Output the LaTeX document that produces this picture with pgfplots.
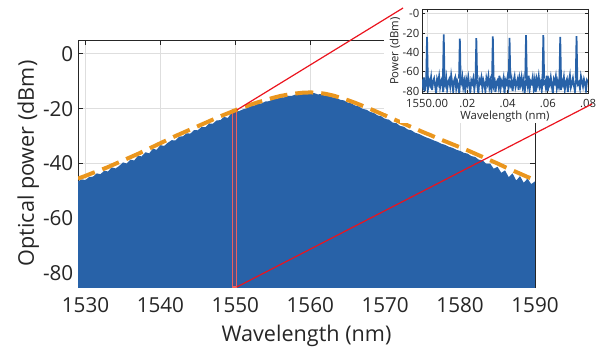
\documentclass[border=0pt]{standalone}
\usepackage{pgfplots}
\pgfplotsset{compat=1.18}
\usepackage{fontspec}
\setmainfont{Open Sans}
\definecolor{mblue}{RGB}{40,98,168}
\definecolor{morange}{RGB}{234,150,30}
\definecolor{tgray}{RGB}{38,38,38}
\definecolor{ggray}{RGB}{222,222,222}
\definecolor{rline}{RGB}{235,20,30}
\definecolor{rbox}{RGB}{236,96,96}
\begin{document}
\begin{tikzpicture}
\useasboundingbox (0,0) rectangle (456.75pt,267.75pt);
\begin{axis}[
  at={(58.5pt,52.5pt)}, anchor=south west,
  width=342.75pt, height=185.25pt, scale only axis,
  xmin=1529, xmax=1590, ymin=-85, ymax=5,
  xtick={1530,1540,1550,1560,1570,1580,1590},
  xticklabels={1530,1540,1550,1560,1570,1580,1590},
  ytick={-80,-60,-40,-20,0}, yticklabels={-80,-60,-40,-20,0},
  tick align=inside, major tick length=3.5pt,
  grid=major, grid style={ggray, line width=0.6pt},
  axis line style={tgray, line width=0.7pt}, tick style={tgray, line width=0.6pt},
  tick label style={font=\fontsize{15.5}{18}\selectfont, text=tgray},
  label style={font=\fontsize{16.2}{19}\selectfont, text=tgray},
  xticklabel style={yshift=-4pt},
  xlabel={Wavelength (nm)}, ylabel={Optical power (dBm)},
  xlabel style={at={(axis description cs:0.5,-0.198)}, anchor=center},
  ylabel style={at={(axis description cs:-0.109,0.5)}, anchor=center},
]
\addplot[draw=none, fill=mblue] coordinates {
(1529,-90) (1529.0,-46.5) (1529.5,-45.8) (1530.0,-46.0) (1530.5,-44.9) (1531.0,-44.8) (1531.5,-43.6)
(1532.0,-43.9) (1532.5,-42.6) (1533.0,-42.9) (1533.5,-41.4) (1534.0,-41.8) (1534.5,-40.9)
(1535.0,-39.6) (1535.5,-40.0) (1536.0,-38.6) (1536.5,-38.9) (1537.0,-37.2) (1537.5,-37.4)
(1538.0,-35.9) (1538.5,-36.3) (1539.0,-34.6) (1539.5,-35.0) (1540.0,-33.3) (1540.5,-33.6)
(1541.0,-32.4) (1541.5,-31.5) (1542.0,-31.6) (1542.5,-30.2) (1543.0,-30.1) (1543.5,-29.0)
(1544.0,-29.1) (1544.5,-27.8) (1545.0,-27.9) (1545.5,-26.6) (1546.0,-26.8) (1546.5,-25.4)
(1547.0,-25.5) (1547.5,-24.3) (1548.0,-24.2) (1548.5,-23.0) (1549.0,-23.4) (1549.5,-21.5)
(1550.0,-20.8) (1550.5,-20.9) (1551.0,-20.3) (1551.5,-19.9) (1552.0,-19.2) (1552.5,-18.9)
(1553.0,-18.3) (1553.5,-18.1) (1554.0,-17.4) (1554.5,-17.3) (1555.0,-16.6) (1555.5,-16.5)
(1556.0,-15.8) (1556.5,-15.9) (1557.0,-15.3) (1557.5,-15.4) (1558.0,-14.9) (1558.5,-15.0)
(1559.0,-14.4) (1559.5,-14.0) (1560.0,-14.5) (1560.5,-14.3) (1561.0,-14.8) (1561.5,-14.7)
(1562.0,-15.3) (1562.5,-15.4) (1563.0,-15.9) (1563.5,-16.1) (1564.0,-16.8) (1564.5,-17.0)
(1565.0,-17.8) (1565.5,-18.1) (1566.0,-18.9) (1566.5,-19.2) (1567.0,-20.1) (1567.5,-20.4)
(1568.0,-21.2) (1568.5,-21.6) (1569.0,-22.5) (1569.5,-22.8) (1570.0,-23.8) (1570.5,-24.0)
(1571.0,-25.1) (1571.5,-25.3) (1572.0,-26.3) (1572.5,-26.6) (1573.0,-27.6) (1573.5,-27.9)
(1574.0,-28.8) (1574.5,-29.2) (1575.0,-29.9) (1575.5,-30.5) (1576.0,-31.0) (1576.5,-31.6)
(1577.0,-32.1) (1577.5,-32.8) (1578.0,-33.2) (1578.5,-33.9) (1579.0,-34.3) (1579.5,-35.0)
(1580.0,-35.4) (1580.5,-36.1) (1581.0,-36.4) (1581.5,-37.3) (1582.0,-37.6) (1582.5,-38.6)
(1583.0,-38.8) (1583.5,-40.1) (1584.0,-40.0) (1584.5,-41.9) (1585.0,-41.2) (1585.5,-43.4)
(1586.0,-42.5) (1586.5,-45.0) (1587.0,-43.6) (1587.5,-46.2) (1588.0,-44.6) (1588.5,-47.0)
(1589.0,-45.5) (1589.5,-47.5) (1590.0,-46.5) (1590,-90)
};
\draw[rbox, line width=1pt, fill=red, fill opacity=0.15] (axis cs:1549.6,-85) rectangle (axis cs:1550.2,-20.5);
\addplot[morange, line width=3pt, dash pattern=on 13.5pt off 6pt] coordinates {
(1529,-45.5) (1530,-44.5) (1531,-43.4) (1532,-42.4) (1533,-41.3) (1534,-40.1) (1535,-38.9)
(1536,-37.7) (1537,-36.5) (1538,-35.2) (1539,-33.9) (1540,-32.6) (1541,-31.3) (1542,-30.0)
(1543,-28.8) (1544,-27.6) (1545,-26.4) (1546,-25.2) (1547,-24.0) (1548,-22.8) (1549,-21.7)
(1550,-20.6) (1551,-19.6) (1552,-18.6) (1553,-17.7) (1554,-16.9) (1555,-16.1) (1556,-15.4)
(1557,-14.9) (1558,-14.5) (1559,-14.2) (1560,-14.1) (1561,-14.2) (1562,-14.6) (1563,-15.2)
(1564,-16.0) (1565,-16.9) (1566,-17.9) (1567,-19.0) (1568,-20.1) (1569,-21.3) (1570,-22.5)
(1571,-23.7) (1572,-24.9) (1573,-26.1) (1574,-27.3) (1575,-28.5) (1576,-29.6) (1577,-30.8)
(1578,-31.9) (1579,-33.0) (1580,-34.1) (1581,-35.2) (1582,-36.4) (1583,-37.6) (1584,-38.8)
(1585,-40.0) (1586,-41.3) (1587,-42.5) (1588,-43.7) (1589,-44.9) (1590,-46.0)
};
\coordinate (rt) at (axis cs:1550.2,-20.5);
\coordinate (rb) at (axis cs:1550.2,-85);
\end{axis}
\fill[white] (288pt,183pt) rectangle (456.75pt,267.75pt);
\fill[white] (300pt,175.5pt) rectangle (456.75pt,183.5pt);
\begin{axis}[
  at={(316.5pt,198pt)}, anchor=south west,
  width=124.5pt, height=63pt, scale only axis,
  xmin=-2.5, xmax=80, ymin=-82, ymax=5,
  xtick={0,20,40,60,80}, xticklabels={1550.00,.02,.04,.06,.08},
  ytick={-80,-60,-40,-20,0}, yticklabels={-80,-60,-40,-20,-0},
  axis background/.style={fill=white},
  tick align=inside, major tick length=2pt,
  grid=major, grid style={ggray, line width=0.5pt},
  axis line style={tgray, line width=0.6pt}, tick style={tgray, line width=0.5pt},
  tick label style={font=\fontsize{8.5}{10}\selectfont, text=tgray},
  label style={font=\fontsize{8.5}{10}\selectfont, text=tgray},
  xticklabel style={yshift=-1.5pt},
  yticklabel style={xshift=1.5pt},
  xlabel={Wavelength (nm)}, ylabel={Power (dBm)},
  xlabel style={at={(axis description cs:0.5,-0.286)}, anchor=center},
  ylabel style={at={(axis description cs:-0.163,0.5)}, anchor=center},
  unbounded coords=jump,
]
\addplot[mblue, line width=1.4pt] table {
x y
-2.5 -68
-2.0 -75
-1.5 -66
-1.0 -80
-0.5 -71
0.0 -64
0.5 -77
1.0 -69
1.5 -73
2.0 -66
2.5 -79
3.0 -70
3.5 -67
4.0 -74
4.5 -82
5.0 -68
5.5 -72
6.0 -65
6.5 -76
7.0 -70
7.5 -67
8.0 -81
8.5 -69
9.0 -73
9.5 -66
10.0 -78
10.5 -71
11.0 -68
11.5 -75
12.0 -64
12.5 -72
13.0 -80
13.5 -69
14.0 -66
14.5 -77
15.0 -70
15.5 -74
16.0 -82
16.5 -67
17.0 -71
17.5 -65
18.0 -76
18.5 -70
19.0 -79
19.5 -68
20.0 -73
20.5 -66
21.0 -75
21.5 -81
22.0 -69
22.5 -72
23.0 -67
23.5 -78
24.0 -70
24.5 -64
25.0 -74
25.5 -82
26.0 -68
26.5 -71
27.0 -66
27.5 -77
28.0 -69
28.5 -73
29.0 -80
29.5 -67
30.0 -72
30.5 -65
31.0 -76
31.5 -70
32.0 -79
32.5 -68
33.0 -74
33.5 -66
34.0 -81
34.5 -71
35.0 -69
35.5 -75
36.0 -64
36.5 -78
37.0 -70
37.5 -73
38.0 -67
38.5 -82
39.0 -69
39.5 -72
40.0 -66
40.5 -77
41.0 -71
41.5 -74
42.0 -68
42.5 -80
43.0 -70
43.5 -65
44.0 -76
44.5 -72
45.0 -68
45.5 -79
46.0 -67
46.5 -73
47.0 -66
47.5 -75
48.0 -69
48.5 -82
49.0 -71
49.5 -67
50.0 -74
50.5 -64
51.0 -78
51.5 -70
52.0 -72
52.5 -66
53.0 -77
53.5 -69
54.0 -81
54.5 -68
55.0 -73
55.5 -65
56.0 -75
56.5 -71
57.0 -79
57.5 -67
58.0 -72
58.5 -70
59.0 -76
59.5 -64
60.0 -80
60.5 -69
61.0 -73
61.5 -66
62.0 -74
62.5 -82
63.0 -68
63.5 -71
64.0 -65
64.5 -77
65.0 -70
65.5 -75
66.0 -67
66.5 -79
67.0 -69
67.5 -73
68.0 -66
68.5 -78
69.0 -71
69.5 -68
70.0 -81
70.5 -70
71.0 -64
71.5 -76
72.0 -72
72.5 -67
73.0 -74
73.5 -80
74.0 -69
74.5 -66
75.0 -73
75.5 -71
76.0 -77
76.5 -65
77.0 -70
77.5 -75
78.0 -68
78.5 -72
79.0 -79
79.5 -69
80.0 -71
};
\addplot[mblue, line width=1.3pt] coordinates {
(-0.4,-67) (0.0,-23.9) (0.4,-67) (0.2,nan)
(7.9,-67) (8.3,-21.4) (8.7,-67) (8.5,nan)
(15.9,-67) (16.3,-25.6) (16.7,-67) (16.5,nan)
(24.1,-67) (24.5,-25.3) (24.9,-67) (24.7,nan)
(32.3,-67) (32.7,-23.5) (33.1,-67) (32.9,nan)
(40.6,-67) (41.0,-24.9) (41.4,-67) (41.2,nan)
(48.8,-67) (49.2,-22.1) (49.6,-67) (49.4,nan)
(57.4,-67) (57.8,-22.1) (58.2,-67) (58.0,nan)
(65.8,-67) (66.2,-23.9) (66.6,-67) (66.4,nan)
(73.9,-67) (74.3,-23.2) (74.7,-67)
};
\coordinate (iu) at (rel axis cs:-0.114,1.012);
\coordinate (il) at (rel axis cs:1.024,-0.131);
\end{axis}
\draw[rline, line width=0.9pt] (rt) -- (iu);
\draw[rline, line width=0.9pt] (rb) -- (il);
\end{tikzpicture}
\end{document}
